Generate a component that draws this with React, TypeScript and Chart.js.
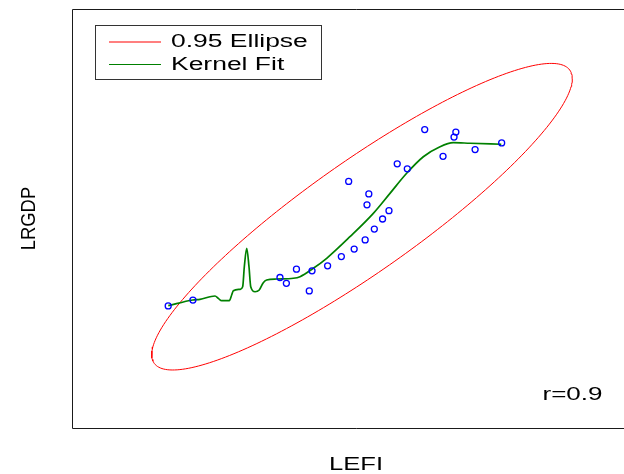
import React, { useEffect, useRef } from "react";
import { Chart, registerables } from "chart.js";

Chart.register(...registerables);

// Observed data (LEFI vs LRGDP)
const LEFI = [5.05, 5.32, 6.27, 6.34, 6.45, 6.59, 6.62, 6.79, 6.94, 7.02, 7.08, 7.2, 7.22, 7.24, 7.3, 7.39, 7.46, 7.55, 7.66, 7.85, 8.05, 8.17, 8.19, 8.4, 8.69];
const LRGDP = [7.46, 7.53, 7.8, 7.73, 7.9, 7.64, 7.88, 7.94, 8.05, 8.95, 8.14, 8.25, 8.67, 8.8, 8.38, 8.5, 8.6, 9.16, 9.1, 9.57, 9.25, 9.48, 9.54, 9.33, 9.41];

// Kernel fit curve
const KERNEL_X = [5.051, 5.318, 5.397, 5.561, 5.597, 5.634, 5.717, 5.743, 5.761, 5.834, 5.863, 5.881, 5.907, 5.932, 5.951, 5.998, 6.044, 6.088, 6.125, 6.234, 6.416, 6.489, 6.634, 6.78, 7.034, 7.289, 7.471, 7.653, 7.835, 8.017, 8.162, 8.344, 8.686];
const KERNEL_Y = [7.463, 7.531, 7.539, 7.579, 7.551, 7.523, 7.523, 7.591, 7.642, 7.659, 7.69, 7.929, 8.15, 7.929, 7.69, 7.63, 7.651, 7.738, 7.77, 7.782, 7.791, 7.81, 7.91, 8.03, 8.288, 8.568, 8.807, 9.047, 9.245, 9.365, 9.413, 9.406, 9.394];

// 0.95 ellipse parameters
const ELLIPSE_CENTER = [7.1655, 8.5275];
const ELLIPSE_HALF_EXTENT = [2.2955, 1.8337];
const R_VALUE = 0.9;
const ELLIPSE_STEPS = 240;

const X_RANGE = [4, 10.2];
const Y_RANGE = [6, 11];

const COLORS = { points: "#0000ff", ellipse: "#ff0000", kernel: "#008000" };
const LABELS = { x: "LEFI", y: "LRGDP", ellipse: "0.95 Ellipse", kernel: "Kernel Fit", r: "r=0.9" };

function ellipsePoints() {
  const pts: { x: number; y: number }[] = [];
  const s = Math.sqrt(1 - R_VALUE * R_VALUE);
  for (let i = 0; i <= ELLIPSE_STEPS; i++) {
    const t = (i / ELLIPSE_STEPS) * Math.PI * 2;
    pts.push({
      x: ELLIPSE_CENTER[0] + ELLIPSE_HALF_EXTENT[0] * Math.cos(t),
      y: ELLIPSE_CENTER[1] + ELLIPSE_HALF_EXTENT[1] * (R_VALUE * Math.cos(t) + s * Math.sin(t)),
    });
  }
  return pts;
}

const FONT = '18px "Liberation Sans", Arial, sans-serif';

const decorPlugin = {
  id: "decor",
  afterDraw(chart: any) {
    const ctx = chart.ctx as CanvasRenderingContext2D;
    const a = chart.chartArea;
    ctx.save();
    // frame (left, top, bottom)
    ctx.strokeStyle = "#1a1a1a";
    ctx.lineWidth = 1;
    ctx.beginPath();
    ctx.moveTo(a.right + 2, Math.round(a.top) - 0.5);
    ctx.lineTo(Math.round(a.left) + 0.5, Math.round(a.top) - 0.5);
    ctx.lineTo(Math.round(a.left) + 0.5, Math.round(a.bottom) + 0.5);
    ctx.lineTo(a.right + 2, Math.round(a.bottom) + 0.5);
    ctx.stroke();

    // legend
    ctx.strokeStyle = "#333";
    ctx.lineWidth = 1;
    ctx.strokeRect(95.5, 25.5, 226, 54);
    const items = [
      { label: LABELS.ellipse, color: COLORS.ellipse },
      { label: LABELS.kernel, color: COLORS.kernel },
    ];
    const rows = [42, 64.5];
    items.forEach((d, i) => {
      ctx.save();
      ctx.strokeStyle = d.color;
      ctx.lineWidth = 1.2;
      ctx.beginPath();
      ctx.moveTo(109, rows[i]);
      ctx.lineTo(161, rows[i]);
      ctx.stroke();
      ctx.restore();
      ctx.save();
      ctx.fillStyle = "#000";
      ctx.font = FONT;
      ctx.textBaseline = "alphabetic";
      ctx.textAlign = "left";
      ctx.translate(171, Math.round(rows[i]) + 5);
      ctx.scale(1.47, 1);
      ctx.fillText(d.label, 0, 0);
      ctx.restore();
    });

    // r label
    ctx.save();
    ctx.fillStyle = "#000";
    ctx.font = FONT;
    ctx.textAlign = "left";
    ctx.translate(542.5, 399.5);
    ctx.scale(1.445, 1);
    ctx.fillText(LABELS.r, 0, 0);
    ctx.restore();

    // x title
    ctx.save();
    ctx.fillStyle = "#000";
    ctx.font = FONT;
    ctx.textAlign = "center";
    ctx.translate(356, 469.5);
    ctx.scale(1.42, 1);
    ctx.fillText(LABELS.x, 0, 0);
    ctx.restore();

    // y title
    ctx.save();
    ctx.fillStyle = "#000";
    ctx.font = FONT;
    ctx.textAlign = "center";
    ctx.translate(35, 218.5);
    ctx.rotate(-Math.PI / 2);
    ctx.scale(1.02, 1.16);
    ctx.fillText(LABELS.y, 0, 0);
    ctx.restore();

    ctx.restore();
  },
};

export default function App() {
  const ref = useRef<HTMLCanvasElement | null>(null);
  useEffect(() => {
    document.body.style.margin = "0";
    if (!ref.current) return;
    const chart = new Chart(ref.current, {
      type: "scatter",
      data: {
        datasets: [
          {
            label: "Data",
            data: LEFI.map((x, i) => ({ x, y: LRGDP[i] })),
            showLine: false,
            pointStyle: "circle",
            pointRadius: 3,
            pointBorderWidth: 1.3,
            pointBorderColor: COLORS.points,
            pointBackgroundColor: "rgba(0,0,0,0)",
            borderColor: COLORS.points,
            order: 0,
          },
          {
            label: LABELS.ellipse,
            data: ellipsePoints(),
            showLine: true,
            pointRadius: 0,
            borderColor: COLORS.ellipse,
            borderWidth: 1,
            tension: 0,
            order: 2,
          },
          {
            label: LABELS.kernel,
            data: KERNEL_X.map((x, i) => ({ x, y: KERNEL_Y[i] })),
            showLine: true,
            pointRadius: 0,
            borderColor: COLORS.kernel,
            borderWidth: 1.7,
            cubicInterpolationMode: "monotone",
            order: 1,
          },
        ] as any,
      },
      options: {
        animation: false,
        responsive: false,
        devicePixelRatio: 1,
        layout: { autoPadding: false, padding: { left: 72, top: 10, right: 0, bottom: 46 } },
        plugins: { legend: { display: false }, tooltip: { enabled: false } },
        scales: {
          x: { type: "linear", min: X_RANGE[0], max: X_RANGE[1], display: false },
          y: { type: "linear", min: Y_RANGE[0], max: Y_RANGE[1], display: false },
        },
      } as any,
      plugins: [decorPlugin],
    });
    return () => chart.destroy();
  }, []);
  return (
    <div style={{ width: 624, height: 474, overflow: "hidden", background: "#fff" }}>
      <canvas ref={ref} width={640} height={474} style={{ display: "block" }} />
    </div>
  );
}
